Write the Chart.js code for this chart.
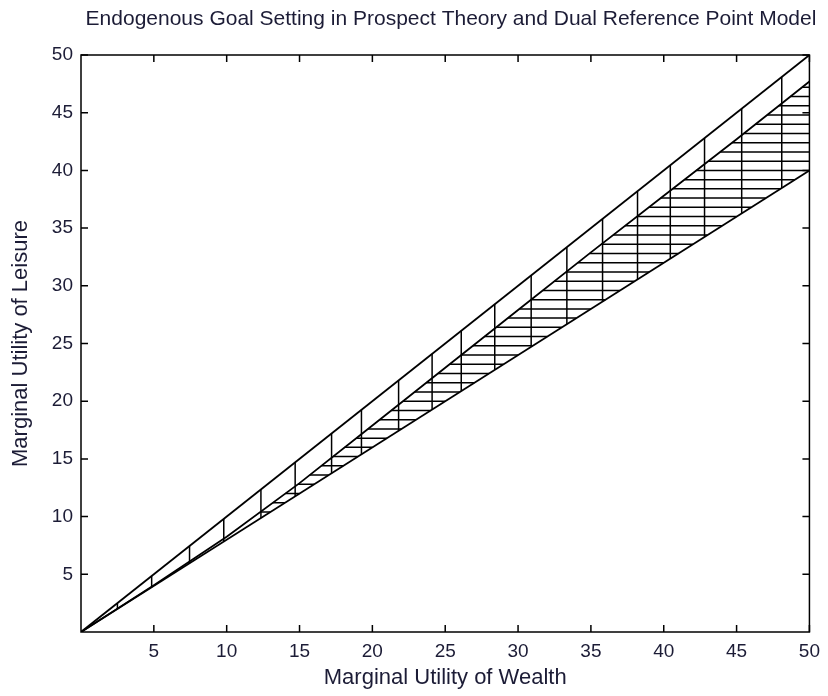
<!DOCTYPE html>
<html>
<head>
<meta charset="utf-8">
<script src="https://cdn.jsdelivr.net/npm/chart.js@4.4.0/dist/chart.umd.min.js"></script>
<style>
  html, body { margin: 0; padding: 0; background: #fff; }
  #wrap { width: 828px; height: 696px; }
</style>
</head>
<body>
<div id="wrap"><canvas id="goalChart" width="828" height="696"></canvas></div>
<script>
// Upper boundary (y = x)
const topX = [0, 50];
const topY = [0, 50];

// Middle boundary (curved, reaches ~47.7 at x = 50)
const midX = [0, 5, 10, 15, 20, 25, 30, 35, 40, 45, 50];
const midY = [0, 4.05, 8.25, 12.9, 17.9, 22.9, 27.9, 32.9, 37.8, 42.7, 47.7];

// Lower boundary (y = 0.8x)
const botX = [0, 50];
const botY = [0, 40];

// Vertical hatch positions (x) between upper and lower boundary
const hatchX = [2.5, 4.85, 7.45, 9.8, 12.35, 14.7, 17.2, 19.25, 21.8, 24.1, 26.1,
  28.4, 30.9, 33.35, 35.8, 38.2, 40.45, 42.8, 45.35, 48.1];

// Horizontal hatch positions (y) between middle and lower boundary
const hatchY = [10.4, 11.2, 12.0, 12.8, 13.6, 14.4, 15.2, 16.0, 16.8, 17.6, 18.4,
  19.2, 20.0, 20.8, 21.6, 22.4, 23.2, 24.0, 24.8, 25.6, 26.4, 27.2, 28.0, 28.8,
  29.6, 30.4, 31.2, 32.0, 32.8, 33.6, 34.4, 35.2, 36.0, 36.8, 37.6, 38.4, 39.2,
  40.0, 40.8, 41.6, 42.4, 43.2, 44.0, 44.8, 45.6, 46.4, 47.2];

// Axis ticks
const tickValues = [5, 10, 15, 20, 25, 30, 35, 40, 45, 50];

const xMax = 50;
const yMax = 50;
const chartTitle = 'Endogenous Goal Setting in Prospect Theory and Dual Reference Point Model';

// y on a polyline at a given x
function yAt(xs, ys, x) {
  for (let i = 1; i < xs.length; i++) {
    if (x <= xs[i]) {
      const t = (x - xs[i - 1]) / (xs[i] - xs[i - 1]);
      return ys[i - 1] + t * (ys[i] - ys[i - 1]);
    }
  }
  return ys[ys.length - 1];
}

// x on a polyline at a given y (polyline increasing)
function xAt(xs, ys, y) {
  for (let i = 1; i < ys.length; i++) {
    if (y <= ys[i]) {
      const t = (y - ys[i - 1]) / (ys[i] - ys[i - 1]);
      return xs[i - 1] + t * (xs[i] - xs[i - 1]);
    }
  }
  return xs[xs.length - 1];
}

function toPoints(xs, ys) {
  return xs.map((x, i) => ({ x: x, y: ys[i] }));
}

// vertical hatch segments, separated by gaps
const verticalPts = [];
hatchX.forEach(x => {
  verticalPts.push({ x: x, y: yAt(topX, topY, x) });
  verticalPts.push({ x: x, y: yAt(botX, botY, x) });
  verticalPts.push({ x: x, y: null });
});

// horizontal hatch segments
const horizontalPts = [];
hatchY.forEach(y => {
  const left = xAt(midX, midY, y);
  const right = Math.min(xMax, xAt(botX, botY, y));
  horizontalPts.push({ x: left, y: y });
  horizontalPts.push({ x: right, y: y });
  horizontalPts.push({ x: right, y: null });
});

const lineStyle = {
  showLine: true,
  pointRadius: 0,
  borderColor: '#000',
  borderWidth: 1.8,
  spanGaps: false,
  fill: false
};

const textColor = '#1c1c36';
const fontFamily = "'Liberation Sans', Arial, sans-serif";

// MATLAB style frame with inward ticks, plus the title
const framePlugin = {
  id: 'frame',
  afterDatasetsDraw(chart) {
    const ctx = chart.ctx;
    const xs = chart.scales.x;
    const ys = chart.scales.y;
    const a = chart.chartArea;
    const len = 7;
    ctx.save();
    ctx.strokeStyle = '#000';
    ctx.lineWidth = 1.5;
    ctx.beginPath();
    tickValues.forEach(v => {
      const px = xs.getPixelForValue(v);
      ctx.moveTo(px, a.bottom); ctx.lineTo(px, a.bottom - len);
      ctx.moveTo(px, a.top); ctx.lineTo(px, a.top + len);
      const py = ys.getPixelForValue(v);
      ctx.moveTo(a.left, py); ctx.lineTo(a.left + len, py);
      ctx.moveTo(a.right, py); ctx.lineTo(a.right - len, py);
    });
    ctx.stroke();
    ctx.strokeRect(a.left, a.top, a.right - a.left, a.bottom - a.top);

    ctx.fillStyle = textColor;
    ctx.font = '21px ' + fontFamily;
    ctx.textAlign = 'center';
    ctx.textBaseline = 'middle';
    ctx.fillText(chartTitle, 451, 19);
    ctx.restore();
  }
};

new Chart(document.getElementById('goalChart'), {
  type: 'scatter',
  data: {
    datasets: [
      Object.assign({ data: toPoints(topX, topY) }, lineStyle),
      Object.assign({ data: toPoints(midX, midY) }, lineStyle),
      Object.assign({ data: toPoints(botX, botY) }, lineStyle),
      Object.assign({ data: verticalPts }, lineStyle, { borderWidth: 1.5 }),
      Object.assign({ data: horizontalPts }, lineStyle, { borderWidth: 1.5 })
    ]
  },
  options: {
    responsive: false,
    animation: false,
    layout: { padding: { left: 0, right: 15, top: 55, bottom: 0 } },
    plugins: {
      legend: { display: false },
      tooltip: { enabled: false },
      title: { display: false }
    },
    scales: {
      x: {
        type: 'linear',
        min: 0,
        max: xMax,
        afterFit: scale => { scale.height = 64; },
        afterBuildTicks: scale => { scale.ticks = [0].concat(tickValues).map(v => ({ value: v })); },
        grid: { display: false, drawTicks: false },
        border: { display: false },
        ticks: {
          color: textColor,
          padding: 8,
          maxRotation: 0,
          font: { family: fontFamily, size: 19 },
          callback: v => (v === 0 ? '' : v)
        },
        title: {
          display: true,
          text: 'Marginal Utility of Wealth',
          color: textColor,
          font: { family: fontFamily, size: 22 },
          padding: { top: 5, bottom: 5 }
        }
      },
      y: {
        type: 'linear',
        min: 0,
        max: yMax,
        afterFit: scale => { scale.width = 81; },
        afterBuildTicks: scale => { scale.ticks = [0].concat(tickValues).map(v => ({ value: v })); },
        grid: { display: false, drawTicks: false },
        border: { display: false },
        ticks: {
          color: textColor,
          padding: 8,
          font: { family: fontFamily, size: 19 },
          callback: v => (v === 0 ? '' : v)
        },
        title: {
          display: true,
          text: 'Marginal Utility of Leisure',
          color: textColor,
          font: { family: fontFamily, size: 22 },
          padding: { top: 8, bottom: 8 }
        }
      }
    }
  },
  plugins: [framePlugin]
});
</script>
</body>
</html>
